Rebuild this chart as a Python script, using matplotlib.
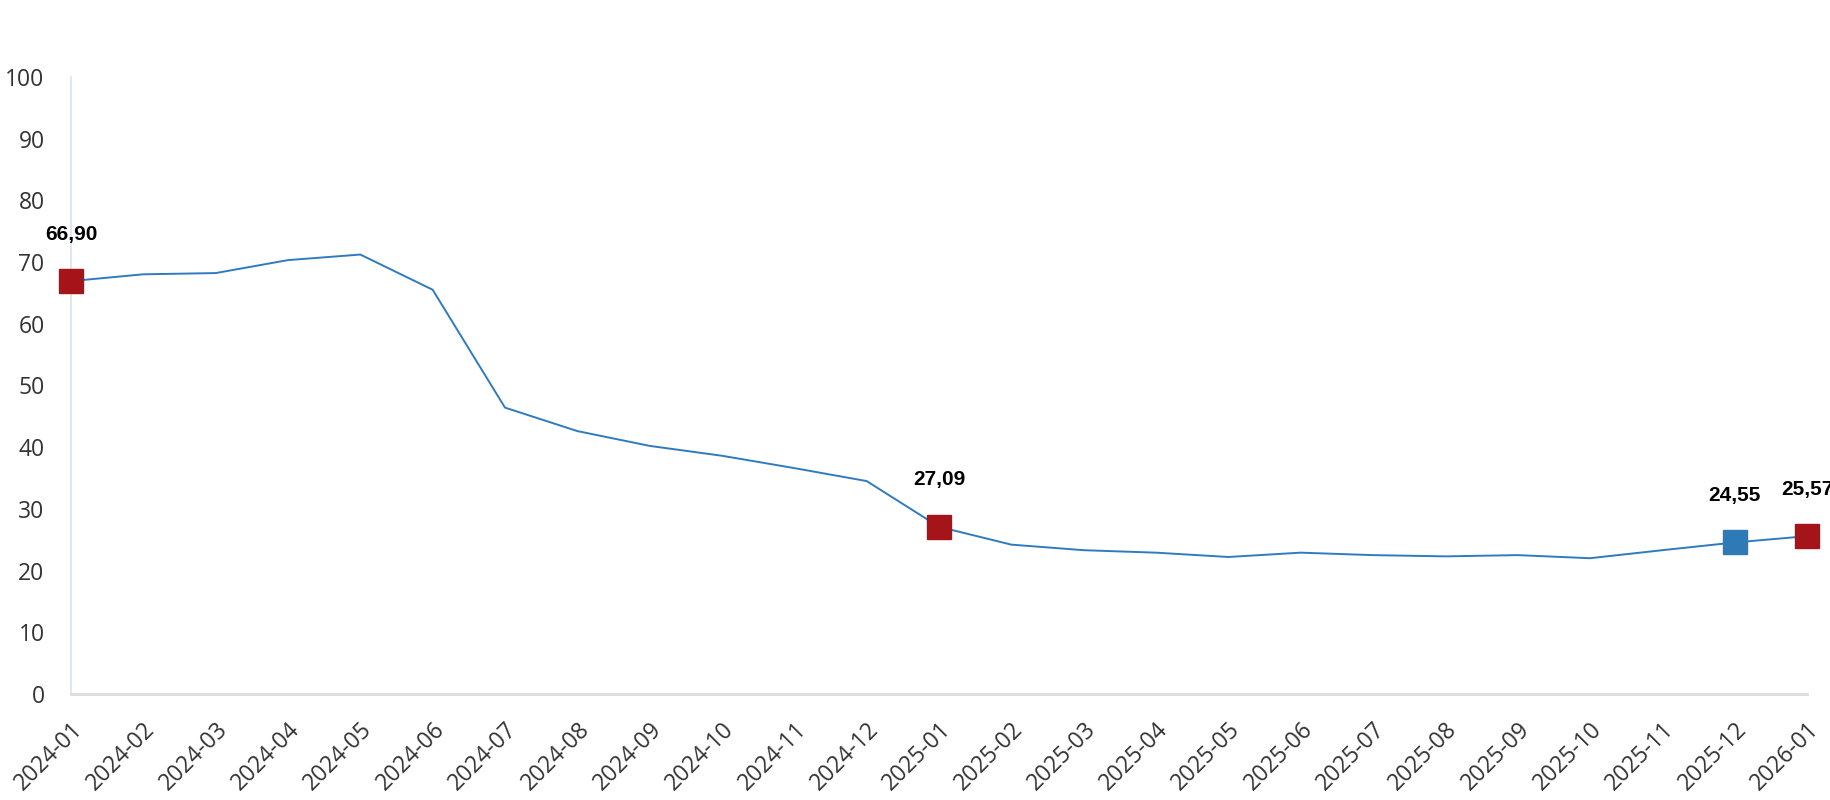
import matplotlib
matplotlib.use("Agg")
import matplotlib.pyplot as plt

mois = ["2024-01", "2024-02", "2024-03", "2024-04", "2024-05", "2024-06",
        "2024-07", "2024-08", "2024-09", "2024-10", "2024-11", "2024-12",
        "2025-01", "2025-02", "2025-03", "2025-04", "2025-05", "2025-06",
        "2025-07", "2025-08", "2025-09", "2025-10", "2025-11", "2025-12",
        "2026-01"]
valeurs = [66.90, 68.0, 68.2, 70.3, 71.2, 65.5, 46.4, 42.6, 40.2, 38.6,
           36.6, 34.5, 27.09, 24.2, 23.3, 22.9, 22.2, 22.9, 22.5, 22.3,
           22.5, 22.0, 23.3, 24.55, 25.57]
# points mis en valeur
points_rouges = [0, 12, 24]
points_bleus = [23]

bleu_ligne = "#2f7bbf"
rouge = "#a51419"
bleu = "#2e7ab6"

fig = plt.figure(figsize=(18.3, 8), dpi=100)
ax = fig.add_axes([0.0388, 0.1325, 0.9486, 0.7715])

x = list(range(len(mois)))
ax.plot(x, valeurs, color=bleu_ligne, lw=1.4, zorder=2)

for i in points_rouges + points_bleus:
    c = rouge if i in points_rouges else bleu
    ax.plot(x[i], valeurs[i], marker="s", ms=17.5, color=c, mec=c,
            clip_on=False, zorder=3)
    txt = f"{valeurs[i]:.2f}".replace(".", ",")
    ax.annotate(txt, (x[i], valeurs[i]), xytext=(0, 47),
                textcoords="offset pixels", ha="center", va="center",
                fontsize=15, fontweight="bold", family="Liberation Sans",
                color="black", annotation_clip=False)

ax.set_xlim(0, len(mois) - 1)
ax.set_ylim(0, 100)
ax.set_yticks(range(0, 101, 10))
ax.set_xticks(x)
ax.set_xticklabels(mois, rotation=45, ha="right", rotation_mode="anchor")

for lab in ax.get_xticklabels() + ax.get_yticklabels():
    lab.set_family("Open Sans")
    lab.set_fontsize(16.5)
    lab.set_color("#333333")

ax.tick_params(axis="both", length=0)
ax.tick_params(axis="y", pad=19)
ax.tick_params(axis="x", pad=17)

for s in ["top", "right"]:
    ax.spines[s].set_visible(False)
ax.spines["left"].set_color("#dde2ea")
ax.spines["bottom"].set_color("#dcdcdc")
ax.spines["left"].set_linewidth(1.2)
ax.spines["bottom"].set_linewidth(2)

fig.savefig("out.png", dpi=100, facecolor="white")
